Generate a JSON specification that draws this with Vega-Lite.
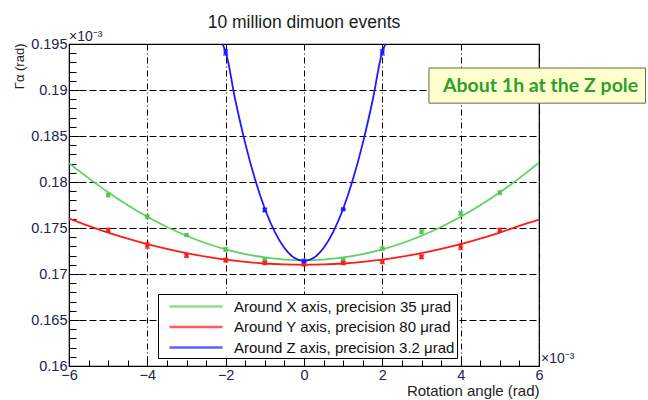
{
  "$schema": "https://vega.github.io/schema/vega-lite/v6.json",
  "autosize": {"type": "none"},
  "width": 470,
  "height": 322,
  "padding": {"left": 69, "top": 44, "right": 109, "bottom": 34},
  "background": "white",
  "title": {"text": "10 million dimuon events", "fontSize": 17.5, "font": "Liberation Sans", "fontWeight": "normal", "color": "#1a1a1a", "anchor": "middle", "baseline": "alphabetic", "offset": -15},
  "config": {
    "font": "Liberation Sans",
    "view": {"stroke": "black", "strokeWidth": 1.2}
  },
  "datasets": {
    "curves": [
      {"series": "Around X axis, precision 35 μrad", "x": -6, "y": 0.18205},
      {"series": "Around X axis, precision 35 μrad", "x": -5.5, "y": 0.18042},
      {"series": "Around X axis, precision 35 μrad", "x": -5, "y": 0.17888},
      {"series": "Around X axis, precision 35 μrad", "x": -4.5, "y": 0.17747},
      {"series": "Around X axis, precision 35 μrad", "x": -4, "y": 0.17622},
      {"series": "Around X axis, precision 35 μrad", "x": -3.5, "y": 0.17511},
      {"series": "Around X axis, precision 35 μrad", "x": -3, "y": 0.17416},
      {"series": "Around X axis, precision 35 μrad", "x": -2.5, "y": 0.17334},
      {"series": "Around X axis, precision 35 μrad", "x": -2, "y": 0.17268},
      {"series": "Around X axis, precision 35 μrad", "x": -1.5, "y": 0.17216},
      {"series": "Around X axis, precision 35 μrad", "x": -1, "y": 0.1718},
      {"series": "Around X axis, precision 35 μrad", "x": -0.5, "y": 0.17157},
      {"series": "Around X axis, precision 35 μrad", "x": 0, "y": 0.1715},
      {"series": "Around X axis, precision 35 μrad", "x": 0.5, "y": 0.17157},
      {"series": "Around X axis, precision 35 μrad", "x": 1, "y": 0.1718},
      {"series": "Around X axis, precision 35 μrad", "x": 1.5, "y": 0.17216},
      {"series": "Around X axis, precision 35 μrad", "x": 2, "y": 0.17268},
      {"series": "Around X axis, precision 35 μrad", "x": 2.5, "y": 0.17334},
      {"series": "Around X axis, precision 35 μrad", "x": 3, "y": 0.17416},
      {"series": "Around X axis, precision 35 μrad", "x": 3.5, "y": 0.17511},
      {"series": "Around X axis, precision 35 μrad", "x": 4, "y": 0.17622},
      {"series": "Around X axis, precision 35 μrad", "x": 4.5, "y": 0.17747},
      {"series": "Around X axis, precision 35 μrad", "x": 5, "y": 0.17888},
      {"series": "Around X axis, precision 35 μrad", "x": 5.5, "y": 0.18042},
      {"series": "Around X axis, precision 35 μrad", "x": 6, "y": 0.1821},
      {"series": "Around Y axis, precision 80 μrad", "x": -6, "y": 0.17604},
      {"series": "Around Y axis, precision 80 μrad", "x": -5.5, "y": 0.17524},
      {"series": "Around Y axis, precision 80 μrad", "x": -5, "y": 0.1745},
      {"series": "Around Y axis, precision 80 μrad", "x": -4.5, "y": 0.17384},
      {"series": "Around Y axis, precision 80 μrad", "x": -4, "y": 0.17324},
      {"series": "Around Y axis, precision 80 μrad", "x": -3.5, "y": 0.17272},
      {"series": "Around Y axis, precision 80 μrad", "x": -3, "y": 0.17226},
      {"series": "Around Y axis, precision 80 μrad", "x": -2.5, "y": 0.17188},
      {"series": "Around Y axis, precision 80 μrad", "x": -2, "y": 0.17156},
      {"series": "Around Y axis, precision 80 μrad", "x": -1.5, "y": 0.17132},
      {"series": "Around Y axis, precision 80 μrad", "x": -1, "y": 0.17114},
      {"series": "Around Y axis, precision 80 μrad", "x": -0.5, "y": 0.17104},
      {"series": "Around Y axis, precision 80 μrad", "x": 0, "y": 0.171},
      {"series": "Around Y axis, precision 80 μrad", "x": 0.5, "y": 0.17104},
      {"series": "Around Y axis, precision 80 μrad", "x": 1, "y": 0.17114},
      {"series": "Around Y axis, precision 80 μrad", "x": 1.5, "y": 0.17132},
      {"series": "Around Y axis, precision 80 μrad", "x": 2, "y": 0.17156},
      {"series": "Around Y axis, precision 80 μrad", "x": 2.5, "y": 0.17188},
      {"series": "Around Y axis, precision 80 μrad", "x": 3, "y": 0.17226},
      {"series": "Around Y axis, precision 80 μrad", "x": 3.5, "y": 0.17272},
      {"series": "Around Y axis, precision 80 μrad", "x": 4, "y": 0.17324},
      {"series": "Around Y axis, precision 80 μrad", "x": 4.5, "y": 0.17384},
      {"series": "Around Y axis, precision 80 μrad", "x": 5, "y": 0.1745},
      {"series": "Around Y axis, precision 80 μrad", "x": 5.5, "y": 0.17524},
      {"series": "Around Y axis, precision 80 μrad", "x": 6, "y": 0.17592},
      {"series": "Around Z axis, precision 3.2 μrad", "x": -2.08, "y": 0.195},
      {"series": "Around Z axis, precision 3.2 μrad", "x": -2, "y": 0.19416},
      {"series": "Around Z axis, precision 3.2 μrad", "x": -1.75, "y": 0.18883},
      {"series": "Around Z axis, precision 3.2 μrad", "x": -1.5, "y": 0.1842},
      {"series": "Around Z axis, precision 3.2 μrad", "x": -1.25, "y": 0.18029},
      {"series": "Around Z axis, precision 3.2 μrad", "x": -1, "y": 0.17709},
      {"series": "Around Z axis, precision 3.2 μrad", "x": -0.75, "y": 0.1746},
      {"series": "Around Z axis, precision 3.2 μrad", "x": -0.5, "y": 0.17282},
      {"series": "Around Z axis, precision 3.2 μrad", "x": -0.25, "y": 0.17176},
      {"series": "Around Z axis, precision 3.2 μrad", "x": 0, "y": 0.1714},
      {"series": "Around Z axis, precision 3.2 μrad", "x": 0.25, "y": 0.17176},
      {"series": "Around Z axis, precision 3.2 μrad", "x": 0.5, "y": 0.17282},
      {"series": "Around Z axis, precision 3.2 μrad", "x": 0.75, "y": 0.1746},
      {"series": "Around Z axis, precision 3.2 μrad", "x": 1, "y": 0.17709},
      {"series": "Around Z axis, precision 3.2 μrad", "x": 1.25, "y": 0.18029},
      {"series": "Around Z axis, precision 3.2 μrad", "x": 1.5, "y": 0.1842},
      {"series": "Around Z axis, precision 3.2 μrad", "x": 1.75, "y": 0.18883},
      {"series": "Around Z axis, precision 3.2 μrad", "x": 2, "y": 0.19416},
      {"series": "Around Z axis, precision 3.2 μrad", "x": 2.08, "y": 0.195}
    ],
    "points": [
      {"series": "Around X axis, precision 35 μrad", "x": -5, "y": 0.17859, "err": 0.0002},
      {"series": "Around X axis, precision 35 μrad", "x": -4, "y": 0.17623, "err": 0.0002},
      {"series": "Around X axis, precision 35 μrad", "x": -3, "y": 0.17423, "err": 0.0001},
      {"series": "Around X axis, precision 35 μrad", "x": -2, "y": 0.17268, "err": 0.0002},
      {"series": "Around X axis, precision 35 μrad", "x": -1, "y": 0.17158, "err": 0.0002},
      {"series": "Around X axis, precision 35 μrad", "x": 0, "y": 0.1714, "err": 0.0002},
      {"series": "Around X axis, precision 35 μrad", "x": 1, "y": 0.17158, "err": 0.0002},
      {"series": "Around X axis, precision 35 μrad", "x": 2, "y": 0.17278, "err": 0.0002},
      {"series": "Around X axis, precision 35 μrad", "x": 3, "y": 0.17459, "err": 0.0002},
      {"series": "Around X axis, precision 35 μrad", "x": 4, "y": 0.1766, "err": 0.0002},
      {"series": "Around X axis, precision 35 μrad", "x": 5, "y": 0.17884, "err": 0.0002},
      {"series": "Around Y axis, precision 80 μrad", "x": -5, "y": 0.17478, "err": 0.0002},
      {"series": "Around Y axis, precision 80 μrad", "x": -4, "y": 0.17311, "err": 0.0003},
      {"series": "Around Y axis, precision 80 μrad", "x": -3, "y": 0.17202, "err": 0.0002},
      {"series": "Around Y axis, precision 80 μrad", "x": -2, "y": 0.17151, "err": 0.0002},
      {"series": "Around Y axis, precision 80 μrad", "x": -1, "y": 0.17122, "err": 0.0002},
      {"series": "Around Y axis, precision 80 μrad", "x": 0, "y": 0.17107, "err": 0.0002},
      {"series": "Around Y axis, precision 80 μrad", "x": 1, "y": 0.17122, "err": 0.0002},
      {"series": "Around Y axis, precision 80 μrad", "x": 2, "y": 0.17133, "err": 0.0002},
      {"series": "Around Y axis, precision 80 μrad", "x": 3, "y": 0.17187, "err": 0.0002},
      {"series": "Around Y axis, precision 80 μrad", "x": 4, "y": 0.17296, "err": 0.0003},
      {"series": "Around Y axis, precision 80 μrad", "x": 5, "y": 0.17478, "err": 0.0002},
      {"series": "Around Z axis, precision 3.2 μrad", "x": -2, "y": 0.1941, "err": 0.0003},
      {"series": "Around Z axis, precision 3.2 μrad", "x": -1, "y": 0.17696, "err": 0.0002},
      {"series": "Around Z axis, precision 3.2 μrad", "x": 0, "y": 0.17138, "err": 0.0002},
      {"series": "Around Z axis, precision 3.2 μrad", "x": 1, "y": 0.17703, "err": 0.0001},
      {"series": "Around Z axis, precision 3.2 μrad", "x": 2, "y": 0.1941, "err": 0.0003}
    ]
  },
  "resolve": {"axis": {"x": "independent", "y": "independent"}},
  "layer": [
    {
      "data": {"name": "curves"},
      "mark": {"type": "line", "clip": true, "strokeWidth": 1.8, "interpolate": "monotone"},
      "encoding": {
        "x": {"field": "x", "type": "quantitative",
          "scale": {"domain": [-6, 6], "nice": false, "zero": false},
          "axis": {"orient": "bottom", "values": [-6, -4, -2, 0, 2, 4, 6], "format": "d",
            "title": "Rotation angle (rad)", "titleAnchor": "end", "titleFontSize": 15, "titleFontWeight": "normal", "titleColor": "#222", "titlePadding": 2,
            "labelFontSize": 14.5, "labelColor": "#1c2448", "labelPadding": 12, "labelFlush": false,
            "domain": false, "ticks": true, "tickSize": -10, "tickColor": "black", "tickWidth": 1,
            "grid": true, "gridColor": "black", "gridOpacity": 1, "gridWidth": 1, "gridDash": [6, 3, 1, 3]}},
        "y": {"field": "y", "type": "quantitative",
          "scale": {"domain": [0.16, 0.195], "nice": false, "zero": false},
          "axis": {"orient": "left", "values": [0.16, 0.165, 0.17, 0.175, 0.18, 0.185, 0.19, 0.195], "format": ".3~f",
            "title": "Γα (rad)", "titleAngle": -90, "titleAlign": "right", "titleBaseline": "middle", "titleX": -50, "titleY": -1,
            "titleFontSize": 13, "titleFontWeight": "normal", "titleColor": "#222",
            "labelFontSize": 14.5, "labelColor": "#1c2448", "labelPadding": 12, "labelFlush": false,
            "domain": false, "ticks": true, "tickSize": -10, "tickColor": "black", "tickWidth": 1,
            "grid": true, "gridColor": "black", "gridOpacity": 1, "gridWidth": 1, "gridDash": [7, 3]}},
        "color": {"field": "series", "type": "nominal",
          "scale": {"domain": ["Around X axis, precision 35 μrad", "Around Y axis, precision 80 μrad", "Around Z axis, precision 3.2 μrad"],
                    "range": ["#5dd35d", "#ff1a1a", "#1a1aff"]},
          "legend": {
            "orient": "none", "legendX": 89, "legendY": 250, "title": null,
            "fillColor": "white", "strokeColor": "black", "padding": 2,
            "symbolType": "M-0.11,0H5.78", "symbolSize": 324, "symbolStrokeWidth": 2.5,
            "labelFont": "Liberation Sans", "labelFontSize": 15, "labelColor": "#111",
            "labelOffset": 53, "rowPadding": 1.5, "labelLimit": 400}}
      }
    },
    {
      "data": {"name": "points"},
      "mark": {"type": "errorbar", "ticks": {"size": 5}, "thickness": 1.5},
      "encoding": {
        "x": {"field": "x", "type": "quantitative", "axis": null},
        "y": {"field": "y", "type": "quantitative", "axis": null},
        "yError": {"field": "err"},
        "color": {"field": "series", "type": "nominal"}
      }
    },
    {
      "data": {"name": "points"},
      "mark": {"type": "square", "size": 16, "opacity": 1, "filled": true},
      "encoding": {
        "x": {"field": "x", "type": "quantitative",
          "axis": {"orient": "bottom", "values": [-5.5, -5, -4.5, -3.5, -3, -2.5, -1.5, -1, -0.5, 0.5, 1, 1.5, 2.5, 3, 3.5, 4.5, 5, 5.5],
            "labels": false, "title": null, "domain": false, "grid": false, "ticks": true, "tickSize": -6, "tickColor": "black", "tickWidth": 1}},
        "y": {"field": "y", "type": "quantitative",
          "axis": {"orient": "left", "values": [0.161, 0.162, 0.163, 0.164, 0.166, 0.167, 0.168, 0.169, 0.171, 0.172, 0.173, 0.174, 0.176, 0.177, 0.178, 0.179, 0.181, 0.182, 0.183, 0.184, 0.186, 0.187, 0.188, 0.189, 0.191, 0.192, 0.193, 0.194],
            "labels": false, "title": null, "domain": false, "grid": false, "ticks": true, "tickSize": -7, "tickColor": "black", "tickWidth": 1}},
        "fill": {"field": "series", "type": "nominal", "legend": null,
          "scale": {"domain": ["Around X axis, precision 35 μrad", "Around Y axis, precision 80 μrad", "Around Z axis, precision 3.2 μrad"],
                    "range": ["#4cc84c", "#ff1a1a", "#1a1aff"]}}
      }
    },
    {
      "data": {"values": [{}]},
      "mark": {"type": "rect", "fill": "#ffffcc", "stroke": "#666655", "strokeWidth": 1, "clip": false},
      "encoding": {
        "x": {"datum": 3.19, "type": "quantitative", "axis": null},
        "x2": {"datum": 8.72},
        "y": {"datum": 0.19239, "type": "quantitative", "axis": null},
        "y2": {"datum": 0.18857}
      }
    },
    {
      "data": {"values": [{"note": "About 1h at the Z pole"}]},
      "mark": {"type": "text", "font": "Lato", "fontWeight": "bold", "fontSize": 19.5, "color": "#2e9e2e", "align": "center", "baseline": "middle", "clip": false},
      "encoding": {
        "x": {"datum": 6.04, "type": "quantitative", "axis": null},
        "y": {"datum": 0.19046, "type": "quantitative", "axis": null},
        "text": {"field": "note"}
      }
    },
    {
      "data": {"values": [{"t": "×10⁻³"}]},
      "mark": {"type": "text", "fontSize": 14, "color": "#1c2448", "align": "left", "baseline": "bottom", "dy": 0, "clip": false},
      "encoding": {
        "x": {"datum": -6, "type": "quantitative", "axis": null},
        "y": {"datum": 0.195, "type": "quantitative", "axis": null},
        "text": {"field": "t"}
      }
    },
    {
      "data": {"values": [{"t": "×10⁻³"}]},
      "mark": {"type": "text", "fontSize": 14, "color": "#1c2448", "align": "left", "baseline": "bottom", "dx": 2, "dy": 0, "clip": false},
      "encoding": {
        "x": {"datum": 6, "type": "quantitative", "axis": null},
        "y": {"datum": 0.16, "type": "quantitative", "axis": null},
        "text": {"field": "t"}
      }
    }
  ]
}
